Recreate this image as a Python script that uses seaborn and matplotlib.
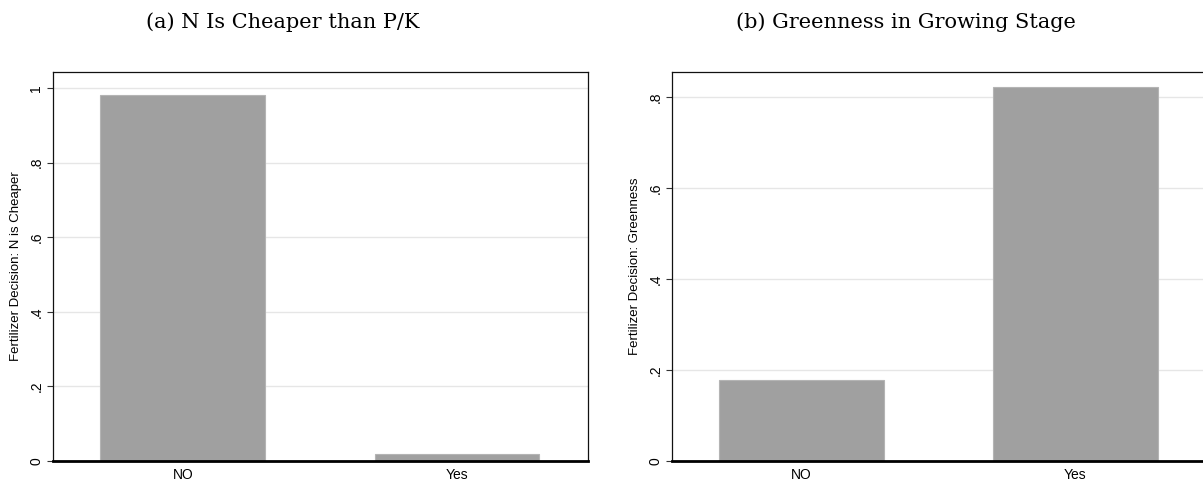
import pandas as pd
import matplotlib.pyplot as plt
import seaborn as sns

categories = ['NO', 'Yes']
n_cheaper = [0.982, 0.018]
greenness = [0.179, 0.821]

titles = ['(a) N Is Cheaper than P/K', '(b) Greenness in Growing Stage']
ylabels = ['Fertilizer Decision: N is Cheaper', 'Fertilizer Decision: Greenness']
yticks = [[0, 0.2, 0.4, 0.6, 0.8, 1.0], [0, 0.2, 0.4, 0.6, 0.8]]
yticklabels = [['0', '.2', '.4', '.6', '.8', '1'], ['0', '.2', '.4', '.6', '.8']]
ytops = [1.043, 0.855]

if __name__ == '__main__':
    sns.set_style('white')
    plt.rcParams['font.family'] = ['Liberation Sans', 'DejaVu Sans']
    plt.rcParams['text.color'] = 'black'
    plt.rcParams['axes.labelcolor'] = 'black'
    plt.rcParams['xtick.color'] = 'black'
    plt.rcParams['ytick.color'] = 'black'

    W, H = 1203, 486
    fig = plt.figure(figsize=(W / 100, H / 100), dpi=100)

    # axes boxes in pixel coords: left, top, right, bottom
    boxes = [(53, 72, 588, 461), (672, 72, 1206, 461)]
    title_x = [283, 906]

    for i, values in enumerate([n_cheaper, greenness]):
        l, t, r, b = boxes[i]
        ax = fig.add_axes([l / W, 1 - b / H, (r - l) / W, (b - t) / H])
        df = pd.DataFrame({'cat': categories, 'val': values})
        sns.barplot(data=df, x='cat', y='val', color='#a0a0a0', width=0.6,
                    saturation=1, edgecolor='#b4b4b4', linewidth=0.8, ax=ax, zorder=2)

        ax.set_xlim(-0.473, 1.477)
        ax.set_ylim(0, ytops[i])
        ax.set_yticks(yticks[i])
        ax.set_yticklabels(yticklabels[i], rotation=90, va='center', fontsize=10)
        ax.tick_params(axis='y', direction='out', length=4, width=0.8, color='#333333', pad=3, left=True)
        ax.tick_params(axis='x', length=0, labelsize=10, pad=5)
        ax.grid(axis='y', color='#e6e6e6', linewidth=1, zorder=0)
        ax.set_axisbelow(True)
        ax.set_xlabel('')
        ax.set_ylabel(ylabels[i], fontsize=9.5, labelpad=5)

        for side in ['top', 'right', 'left']:
            ax.spines[side].set_color('#111111')
            ax.spines[side].set_linewidth(0.9)
        ax.spines['bottom'].set_color('black')
        ax.spines['bottom'].set_linewidth(2)

        fig.text(title_x[i] / W, 1 - 22 / H, titles[i], ha='center', va='center',
                 fontsize=15, family=['DejaVu Serif'])

    fig.savefig('out.png', dpi=100)
